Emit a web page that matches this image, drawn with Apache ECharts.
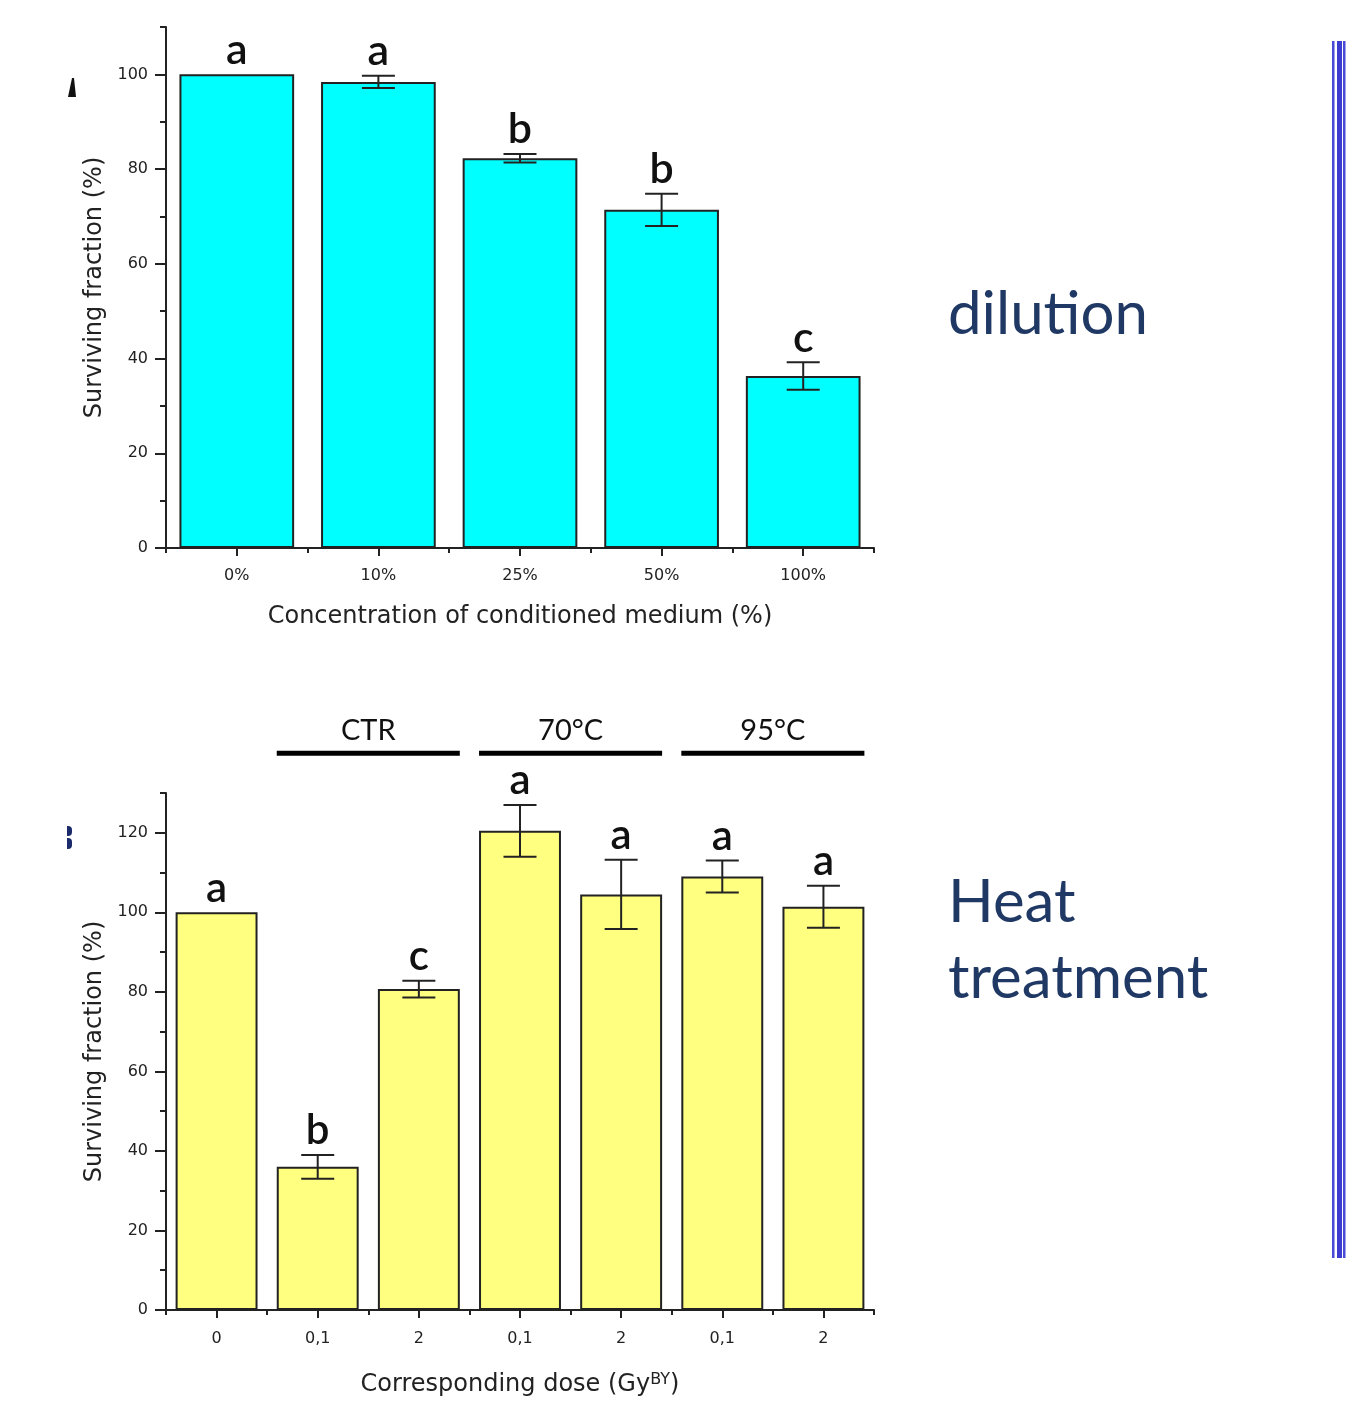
<!DOCTYPE html>
<html><head><meta charset="utf-8">
<script src="https://cdn.jsdelivr.net/npm/echarts@6/dist/echarts.min.js"></script>
<style>html,body{margin:0;padding:0;background:#fff;}#c{width:1353px;height:1402px;}</style>
</head><body><div id="c"></div>
<script>
const topCats = ['0%', '10%', '25%', '50%', '100%'];
const topValues = [100, 98.4, 82.3, 71.4, 36.3];
const topErrors = [0, 1.3, 0.9, 3.4, 2.9];
const topLetters = ['a', 'a', 'b', 'b', 'c'];
const topMajorTicks = [0, 20, 40, 60, 80, 100];
const topMinorTicks = [10, 30, 50, 70, 90, 110];

const botCats = ['0', '0,1', '2', '0,1', '2', '0,1', '2'];
const botValues = [100, 36.0, 80.7, 120.5, 104.5, 109.0, 101.4];
const botErrors = [0, 3.0, 2.1, 6.5, 8.7, 4.0, 5.3];
const botLetters = ['a', 'b', 'c', 'a', 'a', 'a', 'a'];
const botMajorTicks = [0, 20, 40, 60, 80, 100, 120];
const botMinorTicks = [10, 30, 50, 70, 90, 110, 130];

const groupLabels = ['CTR', '70°C', '95°C'];
const groupStart = [1, 3, 5];
const groupEnd = [2, 4, 6];

const AX = '#222';
const axisFont = 'DejaVu Sans';
const letterFont = 'Lato';

function yAxes(gridIndex, max, major, minor) {
  return [
    { type: 'value', gridIndex, min: 0, max, position: 'left',
      axisLine: { show: true, lineStyle: { color: AX, width: 2 } },
      axisTick: { show: true, length: 11, customValues: major, lineStyle: { color: AX, width: 2 } },
      axisLabel: { customValues: major, margin: 18, color: '#222', fontFamily: axisFont, fontSize: 16 },
      splitLine: { show: false },
      name: 'Surviving fraction (%)', nameLocation: 'middle', nameGap: 58,
      nameTextStyle: { fontFamily: axisFont, fontSize: 24, color: '#222' } },
    { type: 'value', gridIndex, min: 0, max, position: 'left', offset: 0,
      axisLine: { show: false },
      axisTick: { show: true, length: 6, customValues: minor, lineStyle: { color: AX, width: 2 } },
      axisLabel: { show: false }, splitLine: { show: false } }
  ];
}
function xAxes(gridIndex, cats, name, gap, labelMargin) {
  return [
    { type: 'category', gridIndex, data: cats, position: 'bottom',
      axisLine: { show: true, lineStyle: { color: AX, width: 2 } },
      axisTick: { show: true, alignWithLabel: true, length: 8, lineStyle: { color: AX, width: 2 } },
      axisLabel: { margin: labelMargin, color: '#222', fontFamily: axisFont, fontSize: 16 },
      name, nameLocation: 'middle', nameGap: gap,
      nameTextStyle: { fontFamily: axisFont, fontSize: 24, color: '#222',
        rich: { n: { fontFamily: axisFont, fontSize: 24, color: '#222' },
                s: { fontFamily: axisFont, fontSize: 16, color: '#222', verticalAlign: 'top', padding: [0, 0, 10, 0] } } } },
    { type: 'category', gridIndex, data: cats, position: 'bottom',
      axisLine: { show: false },
      axisTick: { show: true, length: 5, lineStyle: { color: AX, width: 2 } },
      axisLabel: { show: false } }
  ];
}

function errSeries(xi, yi, vals, errs) {
  return { type: 'custom', xAxisIndex: xi, yAxisIndex: yi, z: 5,
    data: vals.map((v, i) => [i, v, errs[i]]),
    renderItem: function (params, api) {
      const e = api.value(2);
      if (!e) return null;
      const x = api.coord([api.value(0), 0])[0];
      const yt = api.coord([0, api.value(1) + e])[1];
      const yb = api.coord([0, api.value(1) - e])[1];
      const hw = 16.5;
      const st = { stroke: '#222', lineWidth: 2 };
      return { type: 'group', children: [
        { type: 'line', shape: { x1: x, y1: yt, x2: x, y2: yb }, style: st },
        { type: 'line', shape: { x1: x - hw, y1: yt, x2: x + hw, y2: yt }, style: st },
        { type: 'line', shape: { x1: x - hw, y1: yb, x2: x + hw, y2: yb }, style: st }
      ] };
    } };
}
function letterSeries(xi, yi, vals, errs, letters, size) {
  return { type: 'custom', xAxisIndex: xi, yAxisIndex: yi, z: 6, clip: false,
    data: vals.map((v, i) => [i, v, errs[i]]),
    renderItem: function (params, api) {
      const p = api.coord([api.value(0), api.value(1) + api.value(2)]);
      return { type: 'text', x: p[0], y: p[1] - 3,
        style: { text: letters[params.dataIndex], fontFamily: letterFont, fontSize: size, fontWeight: 600,
                 fill: '#111', align: 'center', verticalAlign: 'bottom' } };
    } };
}

const chart = echarts.init(document.getElementById('c'), null, { renderer: 'canvas' });
const option = {
  backgroundColor: '#fff',
  animation: false,
  grid: [
    { left: 166, top: 27, width: 708, height: 521 },
    { left: 166, top: 793, width: 708, height: 517 }
  ],
  xAxis: [
    ...xAxes(0, topCats, 'Concentration of conditioned medium (%)', 57, 20),
    ...xAxes(1, botCats, '{n|Corresponding dose (Gy}{s|BY}{n|)}', 62, 21)
  ],
  yAxis: [
    ...yAxes(0, 110, topMajorTicks, topMinorTicks),
    ...yAxes(1, 130, botMajorTicks, botMinorTicks)
  ],
  series: [
    { type: 'bar', xAxisIndex: 0, yAxisIndex: 0, data: topValues, barCategoryGap: '19%',
      itemStyle: { color: '#00ffff', borderColor: '#222', borderWidth: 2 } },
    errSeries(0, 0, topValues, topErrors),
    letterSeries(0, 0, topValues, topErrors, topLetters, 43),
    { type: 'bar', xAxisIndex: 2, yAxisIndex: 2, data: botValues, barCategoryGap: '19%',
      itemStyle: { color: '#ffff80', borderColor: '#222', borderWidth: 2 } },
    errSeries(2, 2, botValues, botErrors),
    letterSeries(2, 2, botValues, botErrors, botLetters, 42),
    { type: 'custom', xAxisIndex: 2, yAxisIndex: 2, z: 6, clip: false,
      data: groupLabels.map((g, i) => [groupStart[i], groupEnd[i]]),
      renderItem: function (params, api) {
        const band = api.size([1, 0])[0];
        const half = band * 0.81 / 2;
        const x1 = api.coord([api.value(0), 0])[0] - half;
        const x2 = api.coord([api.value(1), 0])[0] + half;
        const y = api.coord([0, 140])[1];
        return { type: 'group', children: [
          { type: 'rect', shape: { x: x1, y: y - 2.5, width: x2 - x1, height: 5 }, style: { fill: '#000' } },
          { type: 'text', x: (x1 + x2) / 2, y: y - 8,
            style: { text: groupLabels[params.dataIndex], fontFamily: letterFont, fontSize: 29,
                     fill: '#111', align: 'center', verticalAlign: 'bottom' } }
        ] };
      } }
  ],
  graphic: [
    { type: 'text', left: 948, top: 285, style: { text: 'dilution', fontFamily: letterFont, fontSize: 60, fill: '#1f3864' } },
    { type: 'text', left: 948, top: 873, style: { text: 'Heat', fontFamily: letterFont, fontSize: 60, fill: '#1f3864' } },
    { type: 'text', left: 948, top: 949, style: { text: 'treatment', fontFamily: letterFont, fontSize: 60, fill: '#1f3864' } },
    { type: 'rect', shape: { x: 1332, y: 41, width: 2.5, height: 1217 }, style: { fill: '#4a4ad8' } },
    { type: 'rect', shape: { x: 1337, y: 41, width: 5, height: 1217 }, style: { fill: '#3c3ccf' } },
    { type: 'rect', shape: { x: 1343, y: 41, width: 2.5, height: 1217 }, style: { fill: '#4a4ad8' } },
    { type: 'polygon', shape: { points: [[72, 78], [74, 78], [76, 97], [68, 97]] }, style: { fill: '#111' } },
    { type: 'rect', shape: { x: 67, y: 826, width: 5, height: 10, r: [0, 4, 4, 0] }, style: { fill: '#1a2a6a' } },
    { type: 'rect', shape: { x: 67, y: 838, width: 5, height: 11, r: [0, 4, 4, 0] }, style: { fill: '#1a2a6a' } }
  ]
};
chart.setOption(option);
</script></body></html>
